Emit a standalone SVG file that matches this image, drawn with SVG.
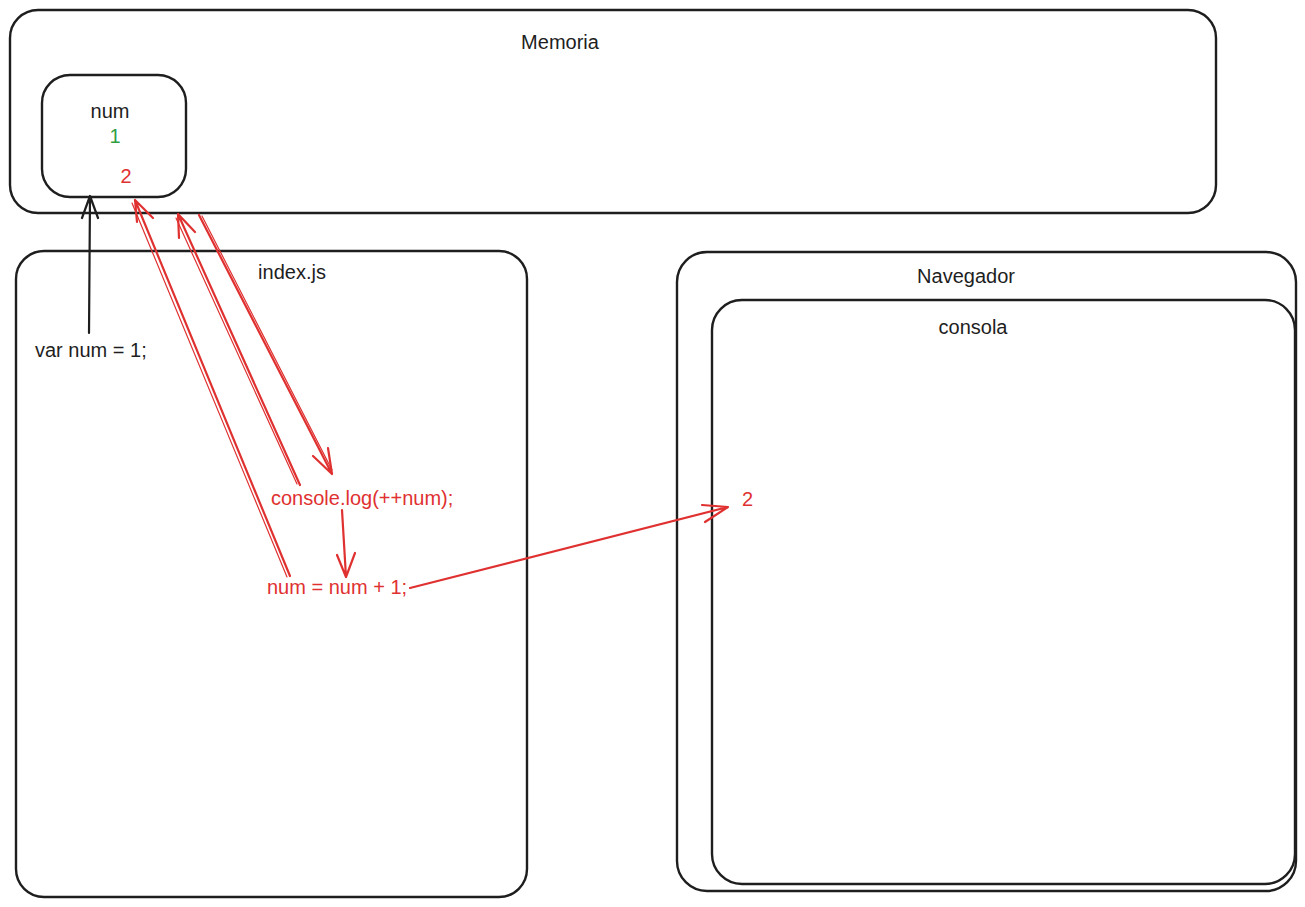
<svg xmlns="http://www.w3.org/2000/svg" width="1305" height="907" viewBox="0 0 1305 907">
<style>
.box{fill:none;stroke:#1e1e1e;stroke-width:2.4;stroke-linecap:round;stroke-linejoin:round}
.t{font-family:"Liberation Sans",Arial,sans-serif;font-size:20px;fill:#1e1e1e}
.c{text-anchor:middle}
.red{fill:#e03131}
.green{fill:#2f9e44}
.ra{fill:none;stroke:#e03131;stroke-width:2.2;stroke-linecap:round;stroke-linejoin:round}
.ra2{fill:none;stroke:#e03131;stroke-width:1.2;stroke-linecap:round}
.ba{fill:none;stroke:#1e1e1e;stroke-width:2.2;stroke-linecap:round;stroke-linejoin:round}
</style>
<rect width="1305" height="907" fill="#ffffff"/>
<g id="memoria">
<rect class="box" x="10" y="10" width="1206" height="203" rx="28"/>
<text class="t c" x="560" y="49">Memoria</text>
</g>
<g id="num">
<rect class="box" x="42" y="75" width="144" height="122" rx="28"/>
<text class="t c" x="110" y="118">num</text>
<text class="t c green" x="115" y="143">1</text>
<text class="t c red" x="126" y="183">2</text>
</g>
<g id="indexjs">
<rect class="box" x="16" y="251" width="511" height="646" rx="28"/>
<text class="t c" x="292" y="279">index.js</text>
<text class="t" x="35" y="357">var num = 1;</text>
<text class="t red" x="271" y="505">console.log(++num);</text>
<text class="t red" x="267" y="594">num = num + 1;</text>
</g>
<g id="navegador">
<rect class="box" x="677" y="252" width="619" height="639" rx="30"/>
<text class="t c" x="966" y="283">Navegador</text>
</g>
<g id="consola">
<rect class="box" x="712" y="300" width="583" height="584" rx="30"/>
<text class="t c" x="973" y="334">consola</text>
<text class="t red" x="742" y="506">2</text>
</g>
<g id="connectors">
<path class="ba" d="M89 333 L90 196 M82 218 L90 196 L98 218"/>
<path class="ra" d="M290 576 L135 200 M137 222 L135 200 L153 218"/>
<path class="ra2" d="M287 577 L132 203"/>
<path class="ra" d="M300 485 L178 214 M179 238 L178 214 L195 232"/>
<path class="ra2" d="M297 484 L176 218"/>
<path class="ra" d="M199 215 L332 474 M313 456 L332 474 L328 448"/>
<path class="ra2" d="M202 216 L332 470"/>
<path class="ra" d="M342 510 L346 577 M337 555 L346 577 L355 553"/>
<path class="ra" d="M410 588 L728 507 M702 505 L728 507 L705 522"/>
</g>
</svg>
